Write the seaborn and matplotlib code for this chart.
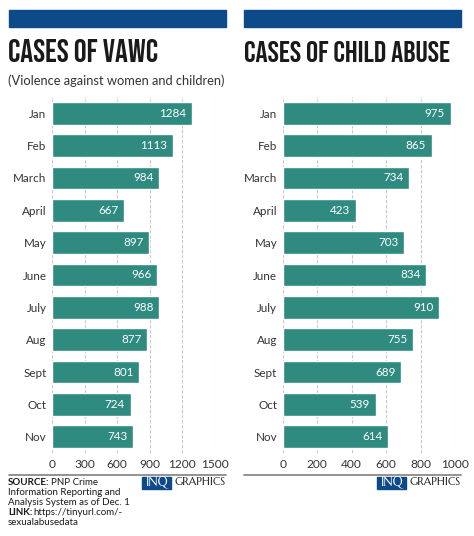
import matplotlib
matplotlib.use("Agg")
import matplotlib.pyplot as plt
import seaborn as sns
import pandas as pd
from matplotlib.patches import Rectangle
from matplotlib.lines import Line2D

months = ["Jan", "Feb", "March", "April", "May", "June", "July", "Aug", "Sept", "Oct", "Nov"]
vawc = [1284, 1113, 984, 667, 897, 966, 988, 877, 801, 724, 743]
child = [975, 865, 734, 423, 703, 834, 910, 755, 689, 539, 614]
vawc_ticks = [0, 300, 600, 900, 1200, 1500]
child_ticks = [0, 200, 400, 600, 800, 1000]

BAR = "#2f8b7f"
BLUE = "#0c4a8a"
TXT = "#333333"

sns.set_theme(style="white")
BODY = ["Lato", "DejaVu Sans"]
plt.rcParams["font.family"] = BODY

W, H = 474, 536
fig = plt.figure(figsize=(W / 100, H / 100), dpi=100)

def fx(x):
    return x / W

def fy(y):
    return 1 - y / H

def make_axes(x0, x1, vals, ticks, xmax):
    ax = fig.add_axes([fx(x0), fy(453), fx(x1) - fx(x0), fy(97) - fy(453)])
    df = pd.DataFrame({"month": months, "value": vals})
    sns.barplot(data=df, y="month", x="value", orient="h", color=BAR,
                saturation=1, width=0.7, ax=ax, zorder=3)
    ax.set_xlim(0, xmax)
    ax.set_ylim(10.5, -0.5)
    ax.set_xticks(ticks)
    ax.set_xticklabels([str(t) for t in ticks])
    ax.set_xlabel("")
    ax.set_ylabel("")
    for s in ax.spines.values():
        s.set_visible(False)
    ax.grid(axis="x", color="#c8c8c8", linestyle=(0, (3, 1.5)), linewidth=0.8, zorder=0)
    ax.grid(axis="y", visible=False)
    ax.set_axisbelow(True)
    ax.tick_params(axis="x", length=0, pad=4, labelsize=8.6, labelcolor=TXT)
    ax.tick_params(axis="y", length=0, pad=4, labelsize=8.4, labelcolor=TXT)
    for i, v in enumerate(vals):
        ax.annotate(str(v), xy=(v, i), xytext=(-4, 0), textcoords="offset points",
                    ha="right", va="center", color="white", fontsize=8.4)
    return ax

ax1 = make_axes(52, 215.3, vawc, vawc_ticks, 1503)
ax2 = make_axes(282.7, 455.3, child, child_ticks, 1002)

# header blue bars
for x0, x1 in [(9, 225.5), (244.3, 461)]:
    fig.patches.append(Rectangle((fx(x0), fy(27.3)), fx(x1) - fx(x0), fy(10) - fy(27.3),
                                 transform=fig.transFigure, color=BLUE, zorder=1))

title_font = ["Bebas Neue", "Oswald", "Anton", "DejaVu Sans"]
fig.text(fx(8.5), fy(62), "CASES OF VAWC", family=title_font,
         fontsize=23, color="#1a1a1a", va="baseline", ha="left")
fig.text(fx(243.5), fy(62), "CASES OF CHILD ABUSE", family=title_font,
         fontsize=21.8, color="#1a1a1a", va="baseline", ha="left")
fig.text(fx(8), fy(81), "(Violence against women and children)", fontsize=9.25,
         color=TXT, va="center", ha="left")

# footer rules
for x0, x1 in [(9, 225.5), (244, 461)]:
    fig.add_artist(Line2D([fx(x0), fx(x1)], [fy(475), fy(475)], transform=fig.transFigure,
                          color="#8a8a8a", linewidth=1.3))

# INQ GRAPHICS logos
LOGO = ["Marcellus", "Liberation Serif", "DejaVu Serif"]
for bx0, bx1, gx1 in [(142, 170.5, 225.5), (377, 406, 461)]:
    fig.patches.append(Rectangle((fx(bx0), fy(488.5)), fx(bx1) - fx(bx0), fy(476.5) - fy(488.5),
                                 transform=fig.transFigure, color=BLUE, zorder=1))
    fig.text((fx(bx0) + fx(bx1)) / 2, fy(482.6), "INQ", family=LOGO,
             fontsize=9.0, color="white", ha="center", va="center")
    fig.text(fx(gx1), fy(482.6), "GRAPHICS", family=LOGO,
             fontsize=7.9, color="#222222", ha="right", va="center")

# source text
fig.canvas.draw()
renderer = fig.canvas.get_renderer()
fs = 7.0
def bold_then_regular(y, bold, regular):
    t = fig.text(fx(8), fy(y), bold, fontsize=fs, fontweight="bold", color="#1a1a1a",
                 va="center", ha="left")
    bb = t.get_window_extent(renderer=renderer)
    fig.text(fx(bb.x1 + 1.5), fy(y), regular, fontsize=fs, color="#1a1a1a", va="center", ha="left")

bold_then_regular(482.3, "SOURCE:", "PNP Crime")
fig.text(fx(8), fy(492.3), "Information Reporting and", fontsize=fs, color="#1a1a1a", va="center")
fig.text(fx(8), fy(502.3), "Analysis System as of Dec. 1", fontsize=fs, color="#1a1a1a", va="center")
bold_then_regular(512.3, "LINK:", "https://tinyurl.com/-")
fig.text(fx(8), fy(522.3), "sexualabusedata", fontsize=fs, color="#1a1a1a", va="center")

fig.savefig("out.png", dpi=100, facecolor="white")
